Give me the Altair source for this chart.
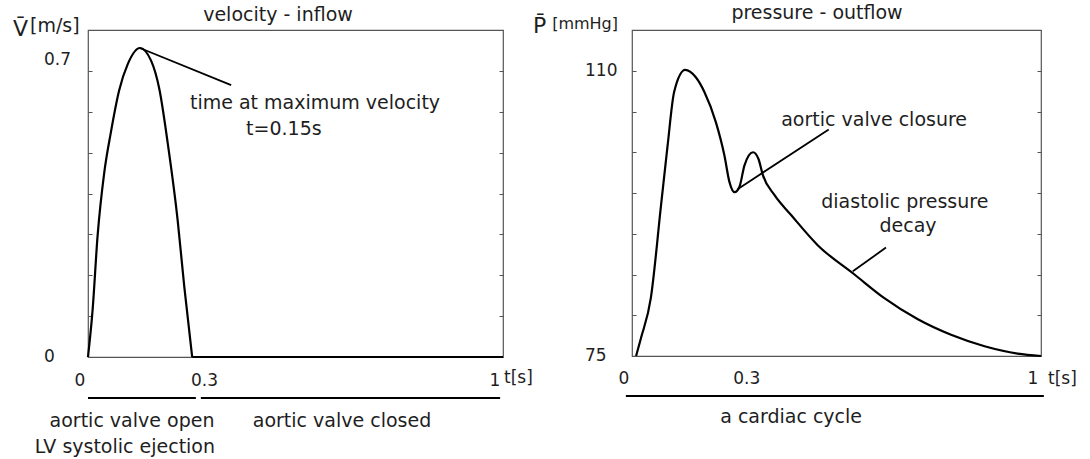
import altair as alt
import pandas as pd

FONT = "DejaVu Sans"
INK = "#1e1e1e"
FRAME = "#555555"

# ---------------- velocity - inflow ----------------
# ejection pulse (t in s, mean velocity in m/s), then valve closed (zero flow)
pulse_t = [0.0, 0.011, 0.023, 0.039, 0.055, 0.075, 0.096, 0.125, 0.152, 0.172, 0.192, 0.216, 0.232, 0.251]
pulse_v = [0.0, 0.114, 0.295, 0.450, 0.549, 0.652, 0.717, 0.756, 0.725, 0.655, 0.524, 0.335, 0.172, 0.0]
closed_t = [0.251, 1.0]
closed_v = [0.0, 0.0]

vel_ticks_t = [0.0, 0.2, 0.4, 0.6, 0.8, 1.0]
vel_ticks_v = [0.0, 0.1, 0.2, 0.3, 0.4, 0.5, 0.6, 0.7, 0.8]
vel_xlabels = [0.0, 0.3, 1.0]
vel_xlabel_text = ["0", "0.3", "1"]

# leader from the velocity peak to its note
vel_lead_from = (0.125, 0.756)
vel_lead_to = (0.345, 0.665)
vel_notes = ["time at maximum velocity", "t=0.15s"]
vel_notes_t = [0.547, 0.472]
vel_notes_v = [0.621, 0.559]

# phases under the time axis
phase_start = [0.0, 0.272]
phase_end = [0.26, 0.993]
phase_text = ["aortic valve open", "LV systolic ejection", "aortic valve closed"]
phase_text_t = [0.106, 0.089, 0.612]
phase_text_row = [0, 1, 0]

# ---------------- pressure - outflow ----------------
pres_t = [0.010, 0.022, 0.046, 0.071, 0.087, 0.103, 0.130, 0.156, 0.177, 0.205, 0.226, 0.238,
          0.251, 0.263, 0.275, 0.296, 0.309, 0.320, 0.349, 0.389, 0.454, 0.544, 0.617, 0.699,
          0.780, 0.862, 0.943, 1.0]
pres_p = [75.0, 77.2, 82.1, 93.5, 100.8, 107.4, 110.1, 109.2, 107.4, 103.7, 99.6, 96.4,
          95.1, 95.8, 98.4, 100.0, 99.2, 97.2, 94.7, 92.3, 88.6, 85.0, 82.1, 79.5,
          77.6, 76.2, 75.3, 75.0]

pres_ticks_t = [0.0, 0.2, 0.4, 0.6, 0.8, 1.0]
pres_ticks_p = [75, 80, 85, 90, 95, 100, 105, 110, 115]
pres_xlabels = [0.0, 0.3, 1.0]
pres_xlabel_text = ["0", "0.3", "1"]

closure_lead = [(0.259, 95.5), (0.481, 102.8)]
decay_lead = [(0.540, 85.4), (0.621, 88.3)]
pres_notes = ["aortic valve closure", "diastolic pressure", "decay"]
pres_notes_t = [0.592, 0.667, 0.675]
pres_notes_p = [104.0, 93.9, 90.9]

cycle_span = (-0.015, 1.007)

W1, H1 = 415, 327
W2, H2 = 409, 326


def tick_axis(values, orient):
    # short inward ticks, no labels: the frame comes from the view stroke
    return alt.Axis(values=values, orient=orient, labels=False, domain=False, grid=False,
                    tickSize=4, offset=-4, tickColor=FRAME, tickWidth=1, title=None)


def text_mark(size=19, align="center", baseline="middle", **kw):
    return dict(font=FONT, fontSize=size, color=INK, align=align, baseline=baseline, **kw)


# ---------- left panel ----------
xs1 = alt.Scale(domain=[0, 1], nice=False, zero=False)
ys1 = alt.Scale(domain=[0, 0.8], nice=False, zero=False)

vel_df = pd.DataFrame({
    "t": pulse_t + closed_t,
    "v": pulse_v + closed_v,
    "seg": ["open"] * len(pulse_t) + ["closed"] * len(closed_t),
})

vel_line = alt.Chart(vel_df).mark_line(color="black", strokeWidth=2.2, interpolate="monotone").encode(
    x=alt.X("t:Q", scale=xs1, axis=tick_axis(vel_ticks_t, "bottom")),
    y=alt.Y("v:Q", scale=ys1, axis=tick_axis(vel_ticks_v, "left")),
    detail="seg:N",
)

vel_lead = alt.Chart(pd.DataFrame({
    "t0": [vel_lead_from[0]], "v0": [vel_lead_from[1]],
    "t1": [vel_lead_to[0]], "v1": [vel_lead_to[1]],
})).mark_rule(color="black", strokeWidth=1.8).encode(
    x=alt.X("t0:Q", scale=xs1, axis=None),
    y=alt.Y("v0:Q", scale=ys1, axis=tick_axis(vel_ticks_v, "right")),
    x2="t1:Q", y2="v1:Q",
)

vel_note = alt.Chart(pd.DataFrame({"t": vel_notes_t, "v": vel_notes_v, "label": vel_notes})).mark_text(
    **text_mark()).encode(
    x=alt.X("t:Q", scale=xs1, axis=None),
    y=alt.Y("v:Q", scale=ys1, axis=None),
    text="label:N",
)

vel_ylab0 = alt.Chart(pd.DataFrame({"v": [0.0], "label": ["0"]})).mark_text(
    **text_mark(17, align="left")).encode(
    x=alt.value(-44), y=alt.Y("v:Q", scale=ys1, axis=None), text="label:N")
vel_ylab1 = alt.Chart(pd.DataFrame({"v": [0.7], "label": ["0.7"]})).mark_text(
    **text_mark(17, align="left", dy=-11)).encode(
    x=alt.value(-44), y=alt.Y("v:Q", scale=ys1, axis=None), text="label:N")

vel_xlab = alt.Chart(pd.DataFrame({"t": vel_xlabels, "label": vel_xlabel_text})).mark_text(
    **text_mark(17, dx=-8)).encode(
    x=alt.X("t:Q", scale=xs1, axis=None), y=alt.value(H1 + 24), text="label:N")

vel_unit_t = alt.Chart(pd.DataFrame({"label": ["t[s]"]})).mark_text(
    **text_mark(17, align="left")).encode(x=alt.value(W1 + 1), y=alt.value(H1 + 21), text="label:N")

vel_title = alt.Chart(pd.DataFrame({"label": ["velocity - inflow"]})).mark_text(
    **text_mark()).encode(x=alt.value(190), y=alt.value(-15), text="label:N")
vel_ysym = alt.Chart(pd.DataFrame({"label": ["V\u0304"]})).mark_text(
    **text_mark(22, align="left", baseline="alphabetic")).encode(
    x=alt.value(-75), y=alt.value(6), text="label:N")
vel_yunit = alt.Chart(pd.DataFrame({"label": ["[m/s]"]})).mark_text(
    **text_mark(19, align="left", baseline="alphabetic")).encode(
    x=alt.value(-58), y=alt.value(2), text="label:N")

phase_bars = alt.Chart(pd.DataFrame({"a": phase_start, "b": phase_end})).mark_rule(
    color="black", strokeWidth=2).encode(
    x=alt.X("a:Q", scale=xs1, axis=None), x2="b:Q", y=alt.value(H1 + 41))
phase_df = pd.DataFrame({"t": phase_text_t, "label": phase_text, "row": phase_text_row})
phase_row0 = alt.Chart(phase_df).transform_filter("datum.row == 0").mark_text(**text_mark()).encode(
    x=alt.X("t:Q", scale=xs1, axis=None), y=alt.value(H1 + 64), text="label:N")
phase_row1 = alt.Chart(phase_df).transform_filter("datum.row == 1").mark_text(**text_mark()).encode(
    x=alt.X("t:Q", scale=xs1, axis=None), y=alt.value(H1 + 90), text="label:N")

left = alt.layer(
    vel_line, vel_lead, vel_note, vel_ylab0, vel_ylab1, vel_xlab, vel_unit_t,
    vel_title, vel_ysym, vel_yunit, phase_bars, phase_row0, phase_row1,
).resolve_axis(y="independent").properties(width=W1, height=H1)

# ---------- right panel ----------
xs2 = alt.Scale(domain=[0, 1], nice=False, zero=False)
ys2 = alt.Scale(domain=[75, 115], nice=False, zero=False)

pres_line = alt.Chart(pd.DataFrame({"t": pres_t, "p": pres_p})).mark_line(
    color="black", strokeWidth=2.2, interpolate="monotone").encode(
    x=alt.X("t:Q", scale=xs2, axis=tick_axis(pres_ticks_t, "bottom")),
    y=alt.Y("p:Q", scale=ys2, axis=tick_axis(pres_ticks_p, "left")),
)

lead_df = pd.DataFrame({
    "t0": [closure_lead[0][0], decay_lead[0][0]], "p0": [closure_lead[0][1], decay_lead[0][1]],
    "t1": [closure_lead[1][0], decay_lead[1][0]], "p1": [closure_lead[1][1], decay_lead[1][1]],
})
pres_lead = alt.Chart(lead_df).mark_rule(color="black", strokeWidth=1.8).encode(
    x=alt.X("t0:Q", scale=xs2, axis=None),
    y=alt.Y("p0:Q", scale=ys2, axis=tick_axis(pres_ticks_p, "right")),
    x2="t1:Q", y2="p1:Q",
)

pres_note = alt.Chart(pd.DataFrame({"t": pres_notes_t, "p": pres_notes_p, "label": pres_notes})).mark_text(
    **text_mark()).encode(
    x=alt.X("t:Q", scale=xs2, axis=None),
    y=alt.Y("p:Q", scale=ys2, axis=None),
    text="label:N",
)

pres_ylab = alt.Chart(pd.DataFrame({"p": [75, 110], "label": ["75", "110"]})).mark_text(
    **text_mark(17, align="left")).encode(
    x=alt.value(-47), y=alt.Y("p:Q", scale=ys2, axis=None), text="label:N")

pres_xlab = alt.Chart(pd.DataFrame({"t": pres_xlabels, "label": pres_xlabel_text})).mark_text(
    **text_mark(17, dx=-8)).encode(
    x=alt.X("t:Q", scale=xs2, axis=None), y=alt.value(H2 + 23), text="label:N")

pres_unit_t = alt.Chart(pd.DataFrame({"label": ["t[s]"]})).mark_text(
    **text_mark(17, align="left")).encode(x=alt.value(W2 + 7), y=alt.value(H2 + 23), text="label:N")

pres_title = alt.Chart(pd.DataFrame({"label": ["pressure - outflow"]})).mark_text(
    **text_mark()).encode(x=alt.value(185), y=alt.value(-17), text="label:N")
pres_ysym = alt.Chart(pd.DataFrame({"label": ["P\u0304"]})).mark_text(
    **text_mark(22, align="left", baseline="alphabetic")).encode(
    x=alt.value(-99), y=alt.value(3), text="label:N")
pres_yunit = alt.Chart(pd.DataFrame({"label": ["[mmHg]"]})).mark_text(
    **text_mark(16, align="right", baseline="alphabetic")).encode(
    x=alt.value(-14), y=alt.value(-1), text="label:N")

cycle_bar = alt.Chart(pd.DataFrame({"a": [cycle_span[0]], "b": [cycle_span[1]]})).mark_rule(
    color="black", strokeWidth=2).encode(
    x=alt.X("a:Q", scale=xs2, axis=None), x2="b:Q", y=alt.value(H2 + 40))
cycle_text = alt.Chart(pd.DataFrame({"t": [0.389], "label": ["a cardiac cycle"]})).mark_text(
    **text_mark()).encode(
    x=alt.X("t:Q", scale=xs2, axis=None), y=alt.value(H2 + 61), text="label:N")

right = alt.layer(
    pres_line, pres_lead, pres_note, pres_ylab, pres_xlab, pres_unit_t,
    pres_title, pres_ysym, pres_yunit, cycle_bar, cycle_text,
).resolve_axis(y="independent").properties(width=W2, height=H2)

chart = alt.hconcat(left, right, spacing=129, bounds="flush").properties(
    padding={"left": 12, "top": 3, "right": 5, "bottom": 5},
    background="white",
).configure_view(stroke=FRAME, strokeWidth=1.2)

chart.save("out.html", embed_options={"renderer": "svg", "actions": False})
